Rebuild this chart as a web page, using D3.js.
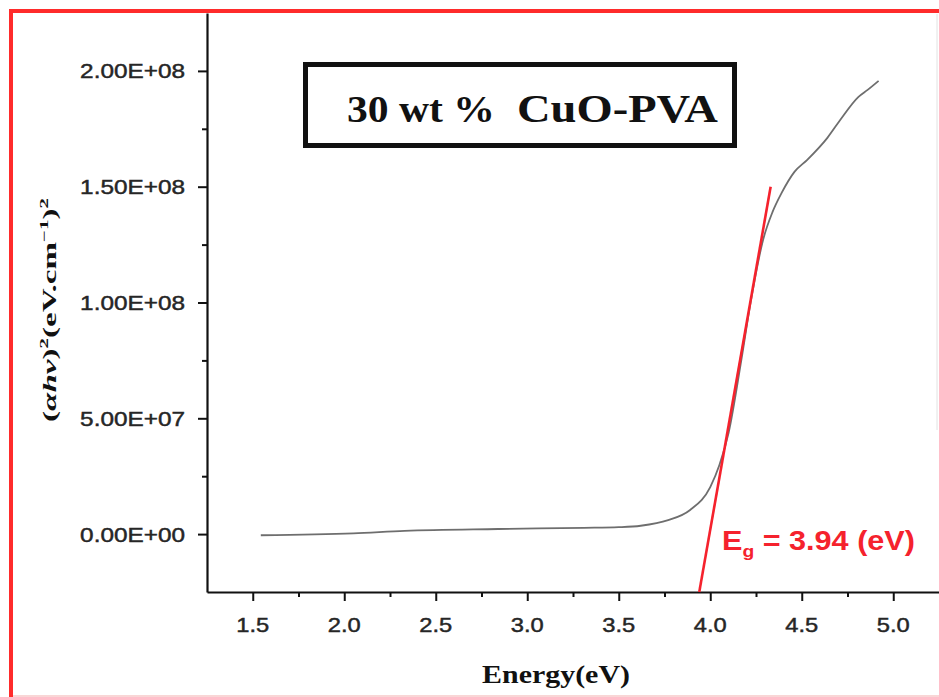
<!DOCTYPE html>
<html><head><meta charset="utf-8">
<script src="https://cdn.jsdelivr.net/npm/d3@7"></script>
<style>html,body{margin:0;padding:0;background:#fff;} svg{display:block}</style>
</head><body><svg id="c" width="939" height="697"></svg>
<script>
// ---- data ----
const energy = [1.544, 2.05, 2.33, 2.84, 3.31, 3.50, 3.62, 3.77, 3.89, 4.00, 4.05, 4.10, 4.17, 4.22, 4.29, 4.34, 4.39, 4.46, 4.53, 4.64, 4.71, 4.81, 4.86, 4.92];
const ahv2 = [-0.5e6, 0.3e6, 1.4e6, 2.2e6, 2.7e6, 3.0e6, 3.6e6, 6.0e6, 10.4e6, 20.3e6, 29.8e6, 43.6e6, 75.2e6, 99.8e6, 127.4e6, 139e6, 147.3e6, 156.4e6, 161.6e6, 171.1e6, 178.8e6, 188.8e6, 191.8e6, 195.7e6];
const fitEnergy = [3.94, 4.33];
const fitValue = [-2.5e7, 1.5e8];
const xTicks = [1.5, 2.0, 2.5, 3.0, 3.5, 4.0, 4.5, 5.0];
const xMinor = [1.75, 2.25, 2.75, 3.25, 3.75, 4.25, 4.75];
const yTicks = [0, 5e7, 1e8, 1.5e8, 2e8];
const yMinor = [2.5e7, 7.5e7, 1.25e8, 1.75e8];
const titleParts = ["30 wt %", "CuO-PVA"];
const xLabel = "Energy(eV)";
const gapValue = "3.94";

// ---- setup ----
const svg = d3.select("#c");
const SANS = "'Liberation Sans', Arial, sans-serif";
const SERIF = "'Liberation Serif', 'Times New Roman', serif";
const x = d3.scaleLinear([1.25, 5.25], [207, 939]);
const y = d3.scaleLinear([-2.5e7, 2.25e8], [592, 13]);

// outer red frame
svg.append("rect").attr("x", 11).attr("y", 11).attr("width", 960).attr("height", 720)
  .attr("fill", "none").attr("stroke", "#ff2b2b").attr("stroke-width", 4);
svg.append("line").attr("x1", 13).attr("x2", 939).attr("y1", 696).attr("y2", 696)
  .attr("stroke", "#f7c9c9").attr("stroke-width", 1.5);
svg.append("line").attr("x1", 937).attr("x2", 937).attr("y1", 14).attr("y2", 430)
  .attr("stroke", "#e2e2e2").attr("stroke-width", 1);

// helper: place a text horizontally stretched to a target width
function fitted(parent, tx, ty, width, anchor, build, extra) {
  const g = parent.append("g");
  const inner = g.append("g");
  const t = inner.append("text").attr("text-anchor", anchor);
  build(t);
  const w = t.node().getBBox().width;
  const sx = width / w;
  g.attr("transform", `translate(${tx},${ty})` + (extra || ""));
  inner.attr("transform", `scale(${sx},1)`);
  return t;
}

function sci(v) {
  const [m, e] = v.toExponential(2).split("e");
  const sign = e[0] === "-" ? "-" : "+";
  const ex = e.replace(/[+-]/, "").padStart(2, "0");
  return `${m}E${sign}${ex}`;
}

// ---- axes ----
const xAxis = svg.append("g").attr("transform", `translate(0,${y(-2.5e7)})`)
  .call(d3.axisBottom(x).tickValues(xTicks).tickSize(9).tickSizeOuter(0).tickFormat(""));
const xAxisMinor = svg.append("g").attr("transform", `translate(0,${y(-2.5e7)})`)
  .call(d3.axisBottom(x).tickValues(xMinor).tickSize(5).tickSizeOuter(0).tickFormat(""));
const yAxis = svg.append("g").attr("transform", `translate(${x(1.25)},0)`)
  .call(d3.axisLeft(y).tickValues(yTicks).tickSize(9).tickSizeOuter(0).tickFormat(""));
const yAxisMinor = svg.append("g").attr("transform", `translate(${x(1.25)},0)`)
  .call(d3.axisLeft(y).tickValues(yMinor).tickSize(5).tickSizeOuter(0).tickFormat(""));
[xAxis, xAxisMinor, yAxis, yAxisMinor].forEach(a => {
  a.select(".domain").attr("stroke", "#111").attr("stroke-width", 2.2);
  a.selectAll(".tick line").attr("stroke", "#111").attr("stroke-width", 2);
});
xAxisMinor.select(".domain").remove();
yAxisMinor.select(".domain").remove();

// tick labels
xTicks.forEach(v => {
  fitted(svg, x(v), 632, 33, "middle", t => t.text(v.toFixed(1))
    .attr("font-family", SANS).attr("font-size", 20).attr("fill", "#262626")
    .attr("stroke", "#262626").attr("stroke-width", 0.45));
});
yTicks.forEach(v => {
  fitted(svg, 185, y(v) + 7.5, 105, "end", t => t.text(sci(v))
    .attr("font-family", SANS).attr("font-size", 20).attr("fill", "#262626")
    .attr("stroke", "#262626").attr("stroke-width", 0.45));
});

// axis titles
fitted(svg, 556, 683, 148, "middle", t => t.text(xLabel)
  .attr("font-family", SERIF).attr("font-weight", "bold").attr("font-size", 26).attr("fill", "#111"));

fitted(svg, 56, 310, 224, "middle", t => {
  t.attr("font-family", SERIF).attr("font-weight", "bold").attr("font-size", 19).attr("fill", "#111");
  t.append("tspan").text("(");
  t.append("tspan").text("αhν").attr("font-style", "italic");
  t.append("tspan").text(")");
  t.append("tspan").text("2").attr("font-size", 12).attr("dy", -8);
  t.append("tspan").text("(eV.cm").attr("dy", 8);
  t.append("tspan").text("−1").attr("font-size", 12).attr("dy", -8);
  t.append("tspan").text(")").attr("dy", 8);
  t.append("tspan").text("2").attr("font-size", 12).attr("dy", -8);
}, " rotate(-90)");

// ---- data curve ----
const pts = energy.map((e, i) => [e, ahv2[i]]);
svg.append("path").datum(pts)
  .attr("d", d3.line().x(d => x(d[0])).y(d => y(d[1])).curve(d3.curveMonotoneX))
  .attr("fill", "none").attr("stroke", "#6e6e6e").attr("stroke-width", 1.8);

// linear fit (Tauc extrapolation)
svg.append("path").datum(fitEnergy.map((e, i) => [e, fitValue[i]]))
  .attr("d", d3.line().x(d => x(d[0])).y(d => y(d[1])))
  .attr("fill", "none").attr("stroke", "#f5222d").attr("stroke-width", 2.6);

// Eg label
fitted(svg, 722, 550, 193, "start", t => {
  t.attr("font-family", SANS).attr("font-weight", "bold").attr("font-size", 27).attr("fill", "#f5222d");
  t.append("tspan").text("E");
  t.append("tspan").text("g").attr("font-size", 17).attr("dy", 7);
  t.append("tspan").text(` = ${gapValue} (eV)`).attr("dy", -7);
});

// ---- title box ----
svg.append("rect").attr("x", 305.5).attr("y", 64.5).attr("width", 429).attr("height", 81)
  .attr("fill", "#fff").attr("stroke", "#111").attr("stroke-width", 5);
fitted(svg, 347, 122, 148, "start", t => t.text(titleParts[0])
  .attr("font-family", SERIF).attr("font-weight", "bold").attr("font-size", 38).attr("fill", "#111"));
fitted(svg, 517, 122, 201, "start", t => t.text(titleParts[1])
  .attr("font-family", SERIF).attr("font-weight", "bold").attr("font-size", 40).attr("fill", "#111"));
</script></body></html>
